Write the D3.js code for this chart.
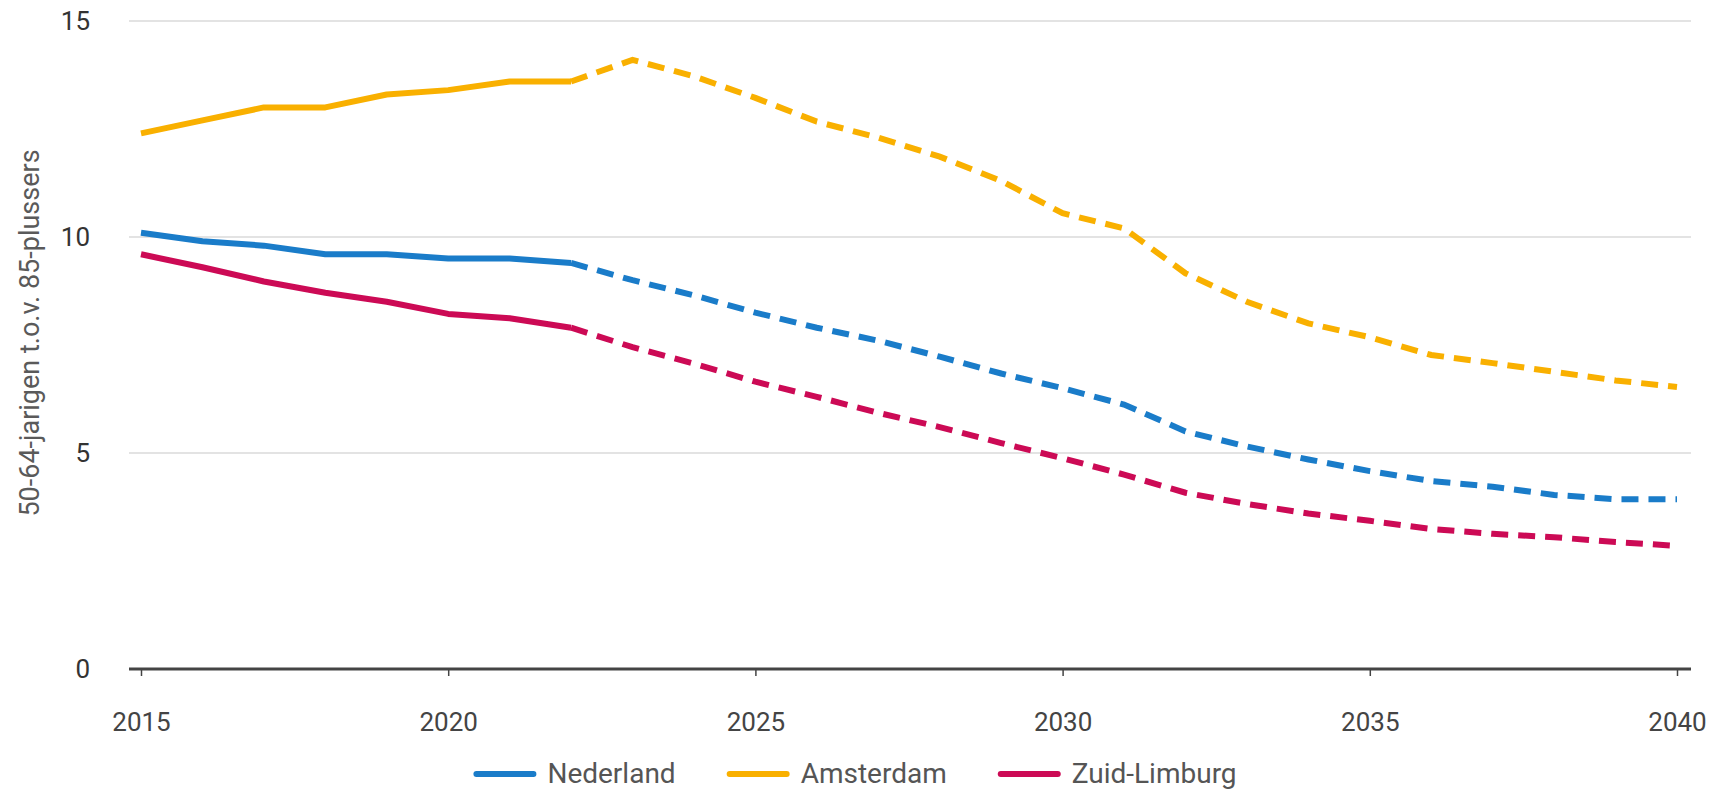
<!DOCTYPE html>
<html>
<head>
<meta charset="utf-8">
<script src="https://cdn.jsdelivr.net/npm/d3@7"></script>
<style>
  html, body { margin: 0; padding: 0; background: #ffffff; }
  svg { display: block; }
  text { font-family: Roboto, "Open Sans", sans-serif; }
</style>
</head>
<body>
<svg id="chart" width="1713" height="792"></svg>
<script>
// ---- Data ----
const years = [2015,2016,2017,2018,2019,2020,2021,2022,2023,2024,2025,2026,2027,2028,2029,2030,2031,2032,2033,2034,2035,2036,2037,2038,2039,2040];
const nederland   = [10.1, 9.9, 9.8, 9.6, 9.6, 9.5, 9.5, 9.4, 9.0, 8.65, 8.25, 7.9, 7.6, 7.23, 6.84, 6.5, 6.12, 5.5, 5.15, 4.85, 4.58, 4.35, 4.22, 4.03, 3.93, 3.93];
const amsterdam   = [12.4, 12.7, 13.0, 13.0, 13.3, 13.4, 13.6, 13.6, 14.1, 13.72, 13.22, 12.67, 12.3, 11.86, 11.3, 10.55, 10.2, 9.16, 8.5, 8.0, 7.68, 7.27, 7.08, 6.88, 6.68, 6.53];
const zuidLimburg = [9.6, 9.3, 8.97, 8.71, 8.5, 8.22, 8.12, 7.9, 7.45, 7.07, 6.65, 6.3, 5.93, 5.6, 5.23, 4.88, 4.5, 4.08, 3.82, 3.6, 3.43, 3.24, 3.13, 3.05, 2.94, 2.85];
const seriesNames = ["Nederland", "Amsterdam", "Zuid-Limburg"];
const seriesColors = ["#1a7cc9", "#f9b000", "#cc0a55"];
const lastObservedYear = 2022;
const xTickValues = [2015, 2020, 2025, 2030, 2035, 2040];
const yTickValues = [0, 5, 10, 15];
const yTitle = "50-64-jarigen t.o.v. 85-plussers";

// ---- Layout ----
const W = 1713, H = 792;
const plotLeft = 129, plotRight = 1691;
const svg = d3.select("#chart");

const x = d3.scaleLinear().domain([2015, 2040]).range([141, 1677]);
const y = d3.scaleLinear().domain([0, 15]).range([669, 21]);

// gridlines
svg.append("g").selectAll("line")
  .data(yTickValues.filter(d => d > 0))
  .join("line")
  .attr("x1", plotLeft).attr("x2", plotRight)
  .attr("y1", d => y(d)).attr("y2", d => y(d))
  .attr("stroke", "#e3e3e3").attr("stroke-width", 2);

// y axis labels
const yAxis = svg.append("g")
  .attr("transform", `translate(${plotLeft},0)`)
  .call(d3.axisLeft(y).tickValues(yTickValues).tickSize(0).tickPadding(39).tickFormat(d3.format("d")));
yAxis.select(".domain").remove();
yAxis.selectAll("text").attr("font-size", 26).attr("fill", "#333").attr("font-family", "Roboto, sans-serif");

// y title
svg.append("text")
  .attr("transform", `translate(30,333) rotate(-90)`)
  .attr("text-anchor", "middle")
  .attr("dominant-baseline", "central")
  .attr("font-size", 27)
  .attr("fill", "#5a5a5a")
  .text(yTitle);

// x axis
const xAxis = svg.append("g")
  .attr("transform", `translate(0,${y(0)})`)
  .call(d3.axisBottom(x).tickValues(xTickValues).tickSize(7).tickSizeOuter(0).tickPadding(37).tickFormat(d3.format("d")));
xAxis.select(".domain").remove();
xAxis.selectAll(".tick line").attr("stroke", "#444").attr("stroke-width", 1.5);
xAxis.selectAll("text").attr("font-size", 26).attr("fill", "#444").attr("font-family", "Roboto, sans-serif");
xAxis.append("line")
  .attr("x1", plotLeft).attr("x2", plotRight)
  .attr("y1", 0).attr("y2", 0)
  .attr("stroke", "#444").attr("stroke-width", 3);

// lines
const allSeries = [nederland, amsterdam, zuidLimburg].map((vals, i) => ({
  name: seriesNames[i],
  color: seriesColors[i],
  points: years.map((yr, j) => ({ year: yr, value: vals[j] }))
}));

const line = d3.line().x(d => x(d.year)).y(d => y(d.value));
const lineG = svg.append("g");
allSeries.forEach(s => {
  lineG.append("path")
    .attr("d", line(s.points.filter(p => p.year >= lastObservedYear)))
    .attr("fill", "none")
    .attr("stroke", s.color)
    .attr("stroke-width", 6)
    .attr("stroke-dasharray", "17,10");
  lineG.append("path")
    .attr("d", line(s.points.filter(p => p.year <= lastObservedYear)))
    .attr("fill", "none")
    .attr("stroke", s.color)
    .attr("stroke-width", 6)
    .attr("stroke-linejoin", "round");
});

// legend
const legend = svg.append("g");
const swatch = 57, swGap = 14, itemGap = 54;
let cx = 0;
seriesNames.forEach((name, i) => {
  const g = legend.append("g").attr("transform", `translate(${cx},0)`);
  g.append("line").attr("x1", 0).attr("x2", swatch).attr("y1", 0).attr("y2", 0)
    .attr("stroke", seriesColors[i]).attr("stroke-width", 6).attr("stroke-linecap", "round");
  const t = g.append("text").attr("x", swatch + swGap).attr("y", 9)
    .attr("font-size", 28).attr("fill", "#555").text(name);
  const w = t.node().getComputedTextLength();
  cx += swatch + swGap + w + itemGap;
});
const totalW = cx - itemGap;
legend.attr("transform", `translate(${(W - totalW) / 2},774)`);
</script>
</body>
</html>
